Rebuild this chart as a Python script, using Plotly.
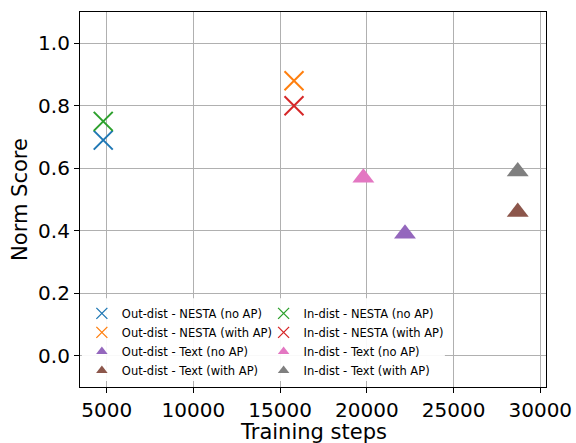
import plotly.graph_objects as go

# Data
labels = [
    "Out-dist - NESTA (no AP)", "Out-dist - NESTA (with AP)",
    "Out-dist - Text (no AP)", "Out-dist - Text (with AP)",
    "In-dist - NESTA (no AP)", "In-dist - NESTA (with AP)",
    "In-dist - Text (no AP)", "In-dist - Text (with AP)",
]
steps = [4800, 15800, 22200, 28700, 4800, 15800, 19800, 28700]
scores = [0.69, 0.88, 0.39, 0.46, 0.75, 0.80, 0.57, 0.59]
colors = ["#1f77b4", "#ff7f0e", "#9467bd", "#8c564b",
          "#2ca02c", "#d62728", "#e377c2", "#7f7f7f"]
symbols = ["x-thin", "x-thin", "triangle-up", "triangle-up",
           "x-thin", "x-thin", "triangle-up", "triangle-up"]
x_ticks = [5000, 10000, 15000, 20000, 25000, 30000]
y_ticks = [0.0, 0.2, 0.4, 0.6, 0.8, 1.0]
x_title = "Training steps"
y_title = "Norm Score"

FONT = "DejaVu Sans"
fig = go.Figure()

def marker(i, big):
    if symbols[i] == "x-thin":
        return dict(symbol="x-thin", size=19 if big else 11,
                    line=dict(color=colors[i], width=2 if big else 1.3),
                    color=colors[i])
    return dict(symbol="triangle-up", size=19 if big else 10,
                color=colors[i], line=dict(width=0))

# data traces
for i in range(len(labels)):
    fig.add_trace(go.Scatter(x=[steps[i]], y=[scores[i]], mode="markers",
                             marker=marker(i, True), showlegend=False,
                             name=labels[i]))
# legend entries
for i in range(len(labels)):
    fig.add_trace(go.Scatter(x=[None], y=[None], mode="markers",
                             marker=marker(i, False), name=labels[i],
                             showlegend=True,
                             legend="legend" if i < 4 else "legend2"))

axis_common = dict(showline=True, linecolor="black", linewidth=1.2, mirror=True,
                   ticks="outside", ticklen=5, tickcolor="black",
                   showgrid=True, gridcolor="#b0b0b0", gridwidth=1,
                   zeroline=False, automargin=False,
                   tickfont=dict(family=FONT, size=20, color="black"))

# white legend frame behind both legend columns
fig.add_shape(type="rect", xref="paper", yref="paper",
              x0=0.004, x1=0.783, y0=0.016, y1=0.237,
              fillcolor="rgba(255,255,255,0.92)", line=dict(width=0), layer="above")

# x-axis title (as annotation so it may sit partly past the bottom edge, like the reference)
fig.add_annotation(text=x_title, xref="paper", yref="paper", x=0.5, y=0,
                   xanchor="center", yanchor="top", yshift=-31, showarrow=False,
                   font=dict(family=FONT, size=21, color="black"))

fig.update_layout(
    width=576, height=443,
    margin=dict(l=80, r=30, t=12, b=56),
    plot_bgcolor="white", paper_bgcolor="white",
    font=dict(family=FONT, color="black"),
    xaxis=dict(range=[3460, 30330], tickvals=x_ticks,
               ticktext=[str(v) for v in x_ticks],
               **axis_common),
    yaxis=dict(range=[-0.1, 1.1], tickvals=y_ticks,
               ticktext=[f"{v:.1f}" for v in y_ticks],
               title=dict(text=y_title, font=dict(family=FONT, size=21), standoff=4),
               **axis_common),
    legend=dict(x=0.004, y=0.235, xanchor="left", yanchor="top",
                bgcolor="rgba(0,0,0,0)", font=dict(family=FONT, size=11.5),
                tracegroupgap=0, itemwidth=30),
    legend2=dict(x=0.394, y=0.235, xanchor="left", yanchor="top",
                 bgcolor="rgba(0,0,0,0)", font=dict(family=FONT, size=11.5),
                 tracegroupgap=0, itemwidth=30),
)

fig.write_html("out.html", config={"displayModeBar": False},
               post_script="document.body.style.margin='0';")
